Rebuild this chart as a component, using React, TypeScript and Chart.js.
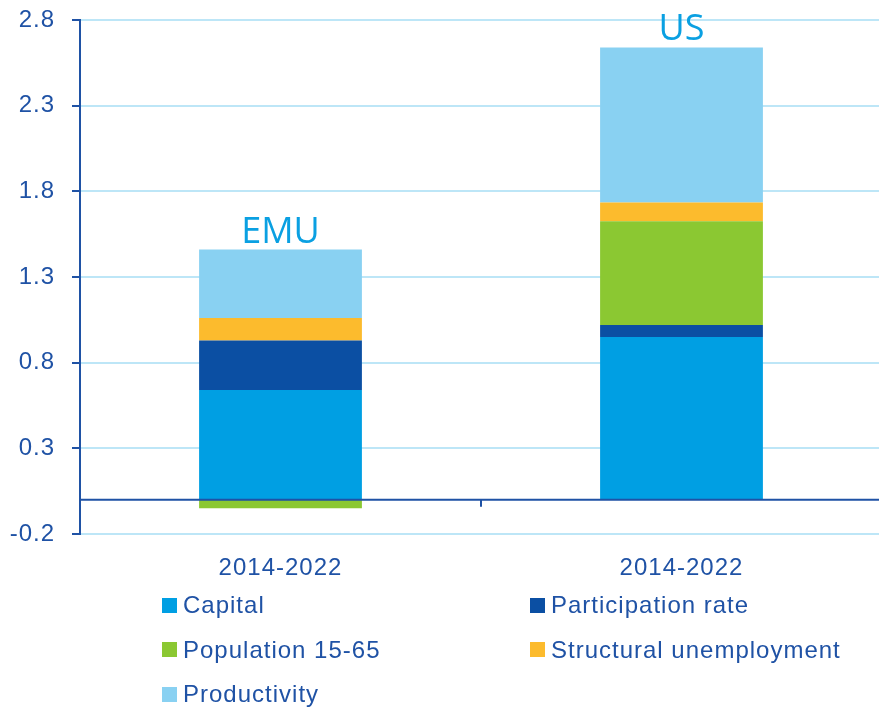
import React, { useEffect, useRef } from "react";
import { Chart, registerables } from "chart.js";

Chart.register(...registerables);

const categories = ["2014-2022", "2014-2022"];
const groupLabels = ["EMU", "US"];
const capital = [0.64, 0.95];
const participationRate = [0.29, 0.07];
const population1565 = [-0.05, 0.605];
const structuralUnemployment = [0.13, 0.11];
const productivity = [0.40, 0.905];
const yTicks = [-0.2, 0.3, 0.8, 1.3, 1.8, 2.3, 2.8];

const seriesNames = ["Capital", "Participation rate", "Population 15-65", "Structural unemployment", "Productivity"];
const seriesColors = ["#009fe3", "#0b4fa3", "#8bc832", "#fcbb2d", "#89d1f2"];
const seriesValues = [capital, participationRate, population1565, structuralUnemployment, productivity];

const DARK = "#1f52a5";
const GRID = "#bde6f7";
const FONT = "'Liberation Sans', Arial, sans-serif";

const decorPlugin = {
  id: "decor",
  beforeDraw(chart: any) {
    try { chart.ctx.letterSpacing = "1px"; } catch (e) {}
  },
  afterDatasetsDraw(chart: any) {
    const ctx = chart.ctx;
    const x = chart.scales.x;
    const y = chart.scales.y;
    const area = chart.chartArea;
    const y0 = y.getPixelForValue(0);
    ctx.save();
    ctx.strokeStyle = DARK;
    ctx.lineWidth = 2;
    ctx.beginPath();
    ctx.moveTo(area.left, y0);
    ctx.lineTo(area.right, y0);
    for (let i = 1; i < categories.length; i++) {
      const bx = (x.getPixelForValue(i - 1) + x.getPixelForValue(i)) / 2;
      ctx.moveTo(bx, y0);
      ctx.lineTo(bx, y0 + 7);
    }
    ctx.stroke();
    ctx.fillStyle = "#0aa0e2";
    ctx.font = "36px 'Open Sans', sans-serif";
    ctx.letterSpacing = "0px";
    ctx.textAlign = "center";
    ctx.textBaseline = "alphabetic";
    categories.forEach((_, i) => {
      let total = 0;
      seriesValues.forEach((s) => { if (s[i] > 0) total += s[i]; });
      const px = x.getPixelForValue(i);
      const py = y.getPixelForValue(total);
      ctx.fillText(groupLabels[i], px, py - 7);
    });
    ctx.restore();
  },
};

export default function App() {
  const ref = useRef<HTMLCanvasElement>(null);
  useEffect(() => {
    const chart = new Chart(ref.current as HTMLCanvasElement, {
      type: "bar",
      data: {
        labels: categories,
        datasets: seriesNames.map((name, k) => ({
          label: name,
          data: seriesValues[k],
          backgroundColor: seriesColors[k],
          borderWidth: 0,
          categoryPercentage: 1,
          barPercentage: 0.406,
        })),
      },
      options: {
        responsive: false,
        animation: false,
        devicePixelRatio: 1,
        layout: { padding: { top: 20, right: 0, left: 0, bottom: 0 } },
        plugins: { legend: { display: false }, tooltip: { enabled: false } },
        scales: {
          x: {
            stacked: true,
            grid: { display: false },
            border: { display: false },
            ticks: { color: DARK, font: { family: FONT, size: 24 }, padding: 12 },
            afterFit: (s: any) => { s.height = 56; s.paddingLeft = 0; s.paddingRight = 0; },
          },
          y: {
            stacked: true,
            min: -0.2,
            max: 2.8,
            afterBuildTicks: (s: any) => { s.ticks = yTicks.map((v) => ({ value: v })); },
            afterFit: (s: any) => { s.width = 80; s.paddingTop = 0; s.paddingBottom = 0; },
            grid: { color: GRID, lineWidth: 2, tickColor: DARK, tickLength: 8, drawTicks: true },
            border: { display: true, color: DARK, width: 2 },
            ticks: {
              color: DARK,
              font: { family: FONT, size: 24 },
              padding: 17,
              callback: (v: any) => Number(v).toFixed(1),
            },
          },
        },
      },
      plugins: [decorPlugin],
    });
    return () => chart.destroy();
  }, []);

  return (
    <div style={{ position: "fixed", left: 0, top: 0, width: 879, height: 708, background: "#fff", overflow: "hidden" }}>
      <canvas ref={ref} width={882} height={590} style={{ display: "block" }} />
      <div
        style={{
          position: "absolute",
          left: 162,
          top: 583,
          display: "grid",
          gridTemplateColumns: "368px 340px",
          gridAutoRows: "44.5px",
          fontFamily: FONT,
          fontSize: 24,
          letterSpacing: "1px",
          color: DARK,
        }}
      >
        {seriesNames.map((name, k) => (
          <div key={name} style={{ display: "flex", alignItems: "center", whiteSpace: "nowrap" }}>
            <span style={{ display: "inline-block", width: 15, height: 15, background: seriesColors[k], marginRight: 6 }} />
            <span>{name}</span>
          </div>
        ))}
      </div>
    </div>
  );
}
